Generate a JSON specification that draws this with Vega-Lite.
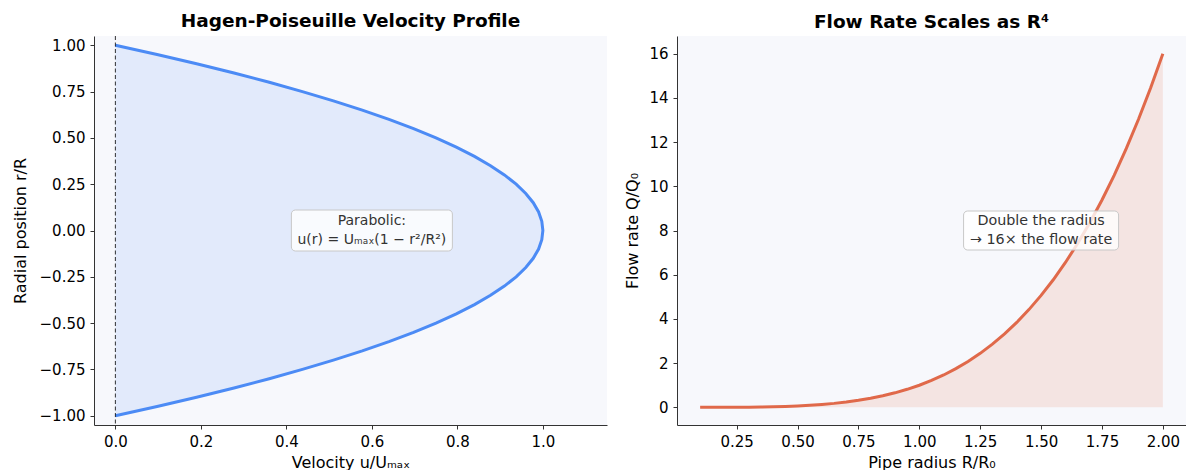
{
  "$schema": "https://vega.github.io/schema/vega-lite/v6.json",
  "autosize": {"type": "pad"},
  "padding": {"left": 12, "top": 12, "right": 0, "bottom": 0},
  "background": "white",
  "bounds": "flush",
  "spacing": 70,
  "config": {
    "font": "DejaVu Sans",
    "view": {"fill": "#F7F8FC", "stroke": null},
    "axis": {
      "grid": false,
      "domainColor": "#333333",
      "tickColor": "#333333",
      "labelColor": "#000000",
      "titleColor": "#000000",
      "labelFont": "DejaVu Sans",
      "titleFont": "DejaVu Sans",
      "labelFontSize": 15,
      "titleFontSize": 16,
      "titleFontWeight": "normal",
      "tickSize": 4,
      "labelPadding": 5,
      "domainWidth": 1
    },
    "axisX": {"titlePadding": 5},
    "axisY": {"titlePadding": 11},
    "title": {"font": "DejaVu Sans", "fontSize": 18.5, "fontWeight": "bold", "color": "#000000", "baseline": "alphabetic", "offset": 5, "anchor": "middle"}
  },
  "datasets": {
    "profile": [
      {"r": -1.0, "u": 0.0}, {"r": -0.95, "u": 0.0975}, {"r": -0.9, "u": 0.19}, {"r": -0.85, "u": 0.2775},
      {"r": -0.8, "u": 0.36}, {"r": -0.75, "u": 0.4375}, {"r": -0.7, "u": 0.51}, {"r": -0.65, "u": 0.5775},
      {"r": -0.6, "u": 0.64}, {"r": -0.55, "u": 0.6975}, {"r": -0.5, "u": 0.75}, {"r": -0.45, "u": 0.7975},
      {"r": -0.4, "u": 0.84}, {"r": -0.35, "u": 0.8775}, {"r": -0.3, "u": 0.91}, {"r": -0.25, "u": 0.9375},
      {"r": -0.2, "u": 0.96}, {"r": -0.15, "u": 0.9775}, {"r": -0.1, "u": 0.99}, {"r": -0.05, "u": 0.9975},
      {"r": 0.0, "u": 1.0},
      {"r": 0.05, "u": 0.9975}, {"r": 0.1, "u": 0.99}, {"r": 0.15, "u": 0.9775}, {"r": 0.2, "u": 0.96},
      {"r": 0.25, "u": 0.9375}, {"r": 0.3, "u": 0.91}, {"r": 0.35, "u": 0.8775}, {"r": 0.4, "u": 0.84},
      {"r": 0.45, "u": 0.7975}, {"r": 0.5, "u": 0.75}, {"r": 0.55, "u": 0.6975}, {"r": 0.6, "u": 0.64},
      {"r": 0.65, "u": 0.5775}, {"r": 0.7, "u": 0.51}, {"r": 0.75, "u": 0.4375}, {"r": 0.8, "u": 0.36},
      {"r": 0.85, "u": 0.2775}, {"r": 0.9, "u": 0.19}, {"r": 0.95, "u": 0.0975}, {"r": 1.0, "u": 0.0}
    ],
    "flow": [
      {"R": 0.1, "Q": 0.0001}, {"R": 0.15, "Q": 0.00050625}, {"R": 0.2, "Q": 0.0016}, {"R": 0.25, "Q": 0.00390625},
      {"R": 0.3, "Q": 0.0081}, {"R": 0.35, "Q": 0.01500625}, {"R": 0.4, "Q": 0.0256}, {"R": 0.45, "Q": 0.04100625},
      {"R": 0.5, "Q": 0.0625}, {"R": 0.55, "Q": 0.09150625}, {"R": 0.6, "Q": 0.1296}, {"R": 0.65, "Q": 0.17850625},
      {"R": 0.7, "Q": 0.2401}, {"R": 0.75, "Q": 0.31640625}, {"R": 0.8, "Q": 0.4096}, {"R": 0.85, "Q": 0.52200625},
      {"R": 0.9, "Q": 0.6561}, {"R": 0.95, "Q": 0.81450625}, {"R": 1.0, "Q": 1.0}, {"R": 1.05, "Q": 1.21550625},
      {"R": 1.1, "Q": 1.4641}, {"R": 1.15, "Q": 1.74900625}, {"R": 1.2, "Q": 2.0736}, {"R": 1.25, "Q": 2.44140625},
      {"R": 1.3, "Q": 2.8561}, {"R": 1.35, "Q": 3.32150625}, {"R": 1.4, "Q": 3.8416}, {"R": 1.45, "Q": 4.42050625},
      {"R": 1.5, "Q": 5.0625}, {"R": 1.55, "Q": 5.77200625}, {"R": 1.6, "Q": 6.5536}, {"R": 1.65, "Q": 7.41200625},
      {"R": 1.7, "Q": 8.3521}, {"R": 1.75, "Q": 9.37890625}, {"R": 1.8, "Q": 10.4976}, {"R": 1.85, "Q": 11.71350625},
      {"R": 1.9, "Q": 13.0321}, {"R": 1.95, "Q": 14.45900625}, {"R": 2.0, "Q": 16.0}
    ],
    "noteLeft": [{"u": 0.6, "r": 0.0, "label": "Parabolic:\nu(r) = Uₘₐₓ(1 − r²/R²)"}],
    "noteRight": [{"R": 1.5, "Q": 8.0, "label": "Double the radius\n→ 16× the flow rate"}],
    "axisLine": [{"u": 0.0}]
  },
  "hconcat": [
    {
      "width": 513,
      "height": 389,
      "title": "Hagen-Poiseuille Velocity Profile",
      "layer": [
        {
          "data": {"name": "profile"},
          "mark": {"type": "area", "orient": "horizontal", "color": "#4C8BF5", "opacity": 0.12},
          "encoding": {
            "y": {"field": "r", "type": "quantitative", "scale": {"domain": [-1.05, 1.05], "nice": false, "zero": false},
                  "axis": {"title": "Radial position r/R", "values": [-1, -0.75, -0.5, -0.25, 0, 0.25, 0.5, 0.75, 1], "format": ".2f"}},
            "x": {"field": "u", "type": "quantitative", "scale": {"domain": [-0.05, 1.15], "nice": false, "zero": false},
                  "axis": {"title": "Velocity u/Uₘₐₓ", "values": [0, 0.2, 0.4, 0.6, 0.8, 1.0], "format": ".1f"}}
          }
        },
        {
          "data": {"name": "profile"},
          "mark": {"type": "line", "color": "#4C8BF5", "strokeWidth": 3},
          "encoding": {
            "y": {"field": "r", "type": "quantitative"},
            "x": {"field": "u", "type": "quantitative"},
            "order": {"field": "r", "type": "quantitative"}
          }
        },
        {
          "data": {"name": "axisLine"},
          "mark": {"type": "rule", "color": "#000000", "strokeWidth": 0.8, "strokeDash": [4, 2.5]},
          "encoding": {"x": {"field": "u", "type": "quantitative"}}
        },
        {
          "data": {"name": "noteLeft"},
          "mark": {"type": "rect", "width": 161, "height": 41, "fill": "#FFFFFF", "fillOpacity": 0.8, "stroke": "#C8C8C8", "strokeWidth": 1, "cornerRadius": 4},
          "encoding": {
            "x": {"field": "u", "type": "quantitative"},
            "y": {"field": "r", "type": "quantitative"}
          }
        },
        {
          "data": {"name": "noteLeft"},
          "mark": {"type": "text", "fontSize": 14, "color": "#333333", "lineBreak": "\n", "lineHeight": 19, "align": "center", "baseline": "middle", "dy": -10},
          "encoding": {
            "x": {"field": "u", "type": "quantitative"},
            "y": {"field": "r", "type": "quantitative"},
            "text": {"field": "label"}
          }
        }
      ]
    },
    {
      "width": 509,
      "height": 389,
      "title": "Flow Rate Scales as R⁴",
      "layer": [
        {
          "data": {"name": "flow"},
          "mark": {"type": "area", "color": "#E76F51", "opacity": 0.15},
          "encoding": {
            "x": {"field": "R", "type": "quantitative", "scale": {"domain": [0.005, 2.095], "nice": false, "zero": false},
                  "axis": {"title": "Pipe radius R/R₀", "values": [0.25, 0.5, 0.75, 1.0, 1.25, 1.5, 1.75, 2.0], "format": ".2f"}},
            "y": {"field": "Q", "type": "quantitative", "scale": {"domain": [-0.8, 16.8], "nice": false, "zero": false},
                  "axis": {"title": "Flow rate Q/Q₀", "values": [0, 2, 4, 6, 8, 10, 12, 14, 16], "titlePadding": 8}}
          }
        },
        {
          "data": {"name": "flow"},
          "mark": {"type": "line", "color": "#E0694A", "strokeWidth": 3},
          "encoding": {
            "x": {"field": "R", "type": "quantitative"},
            "y": {"field": "Q", "type": "quantitative"}
          }
        },
        {
          "data": {"name": "noteRight"},
          "mark": {"type": "rect", "width": 155, "height": 39, "fill": "#FFFFFF", "fillOpacity": 0.8, "stroke": "#C8C8C8", "strokeWidth": 1, "cornerRadius": 4},
          "encoding": {
            "x": {"field": "R", "type": "quantitative"},
            "y": {"field": "Q", "type": "quantitative"}
          }
        },
        {
          "data": {"name": "noteRight"},
          "mark": {"type": "text", "fontSize": 14.3, "color": "#333333", "lineBreak": "\n", "lineHeight": 19, "align": "center", "baseline": "middle", "dy": -10},
          "encoding": {
            "x": {"field": "R", "type": "quantitative"},
            "y": {"field": "Q", "type": "quantitative"},
            "text": {"field": "label"}
          }
        }
      ]
    }
  ]
}
